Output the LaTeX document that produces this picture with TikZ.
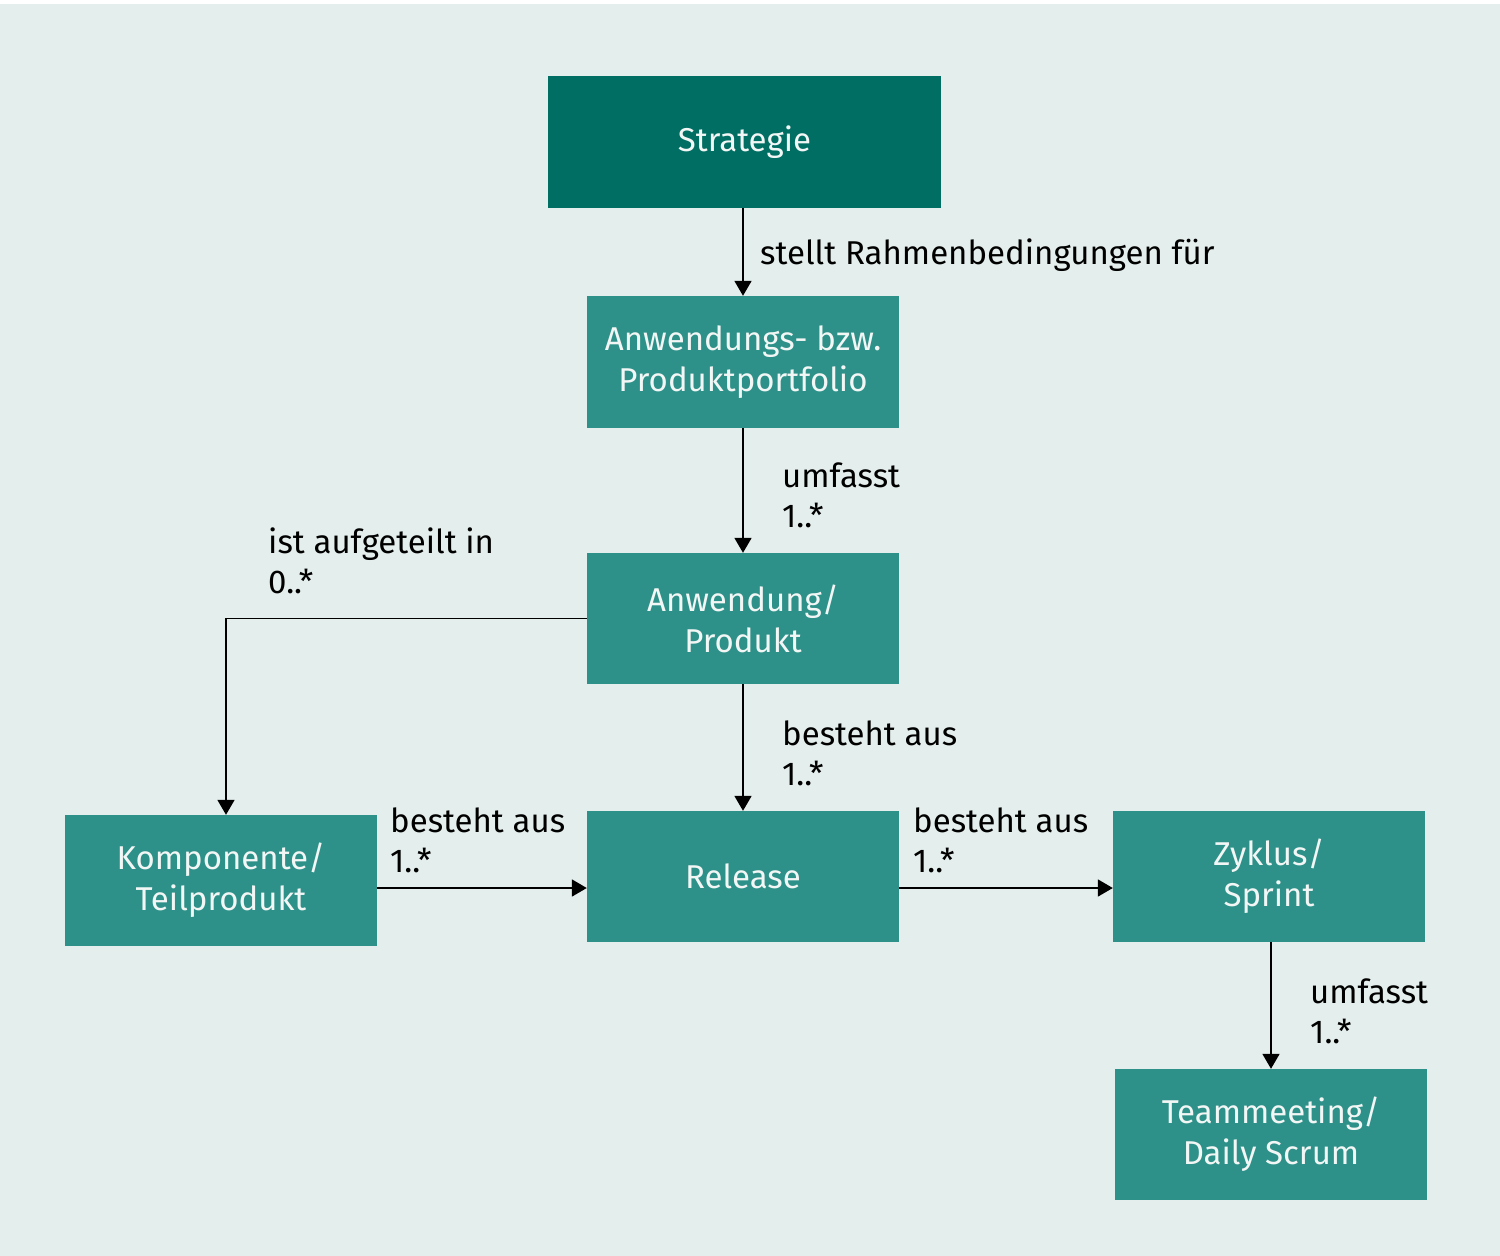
\documentclass[tikz,border=0pt]{standalone}
\usepackage{fontspec}
\setmainfont{Fira Sans}
\usetikzlibrary{arrows.meta,calc}
\definecolor{bg}{HTML}{E4EEEC}
\definecolor{darkteal}{HTML}{006E63}
\definecolor{teal}{HTML}{2E9189}
\definecolor{boxtext}{HTML}{F2F7F6}
\begin{document}
\begin{tikzpicture}[x=1pt,y=-1pt,
  box/.style={fill=teal, draw=none, text=boxtext, minimum width=312pt, minimum height=131pt,
    align=center, inner sep=0pt, font=\fontsize{33}{41}\selectfont},
  darkbox/.style={box, fill=darkteal, minimum width=393pt, minimum height=132pt},
  lbl/.style={anchor=base west, align=left, inner sep=0pt, font=\fontsize{33}{40}\selectfont, text=black},
  conn/.style={line width=1.8pt, -{Triangle[width=17pt,length=15pt]}},
  plain/.style={line width=1.8pt}]
\fill[white] (0,0) rectangle (1500,1256);
\fill[bg] (0,4) rectangle (1500,1256);
\useasboundingbox (0,0) rectangle (1500,1256);

\node[darkbox] (strat) at (744.5,142) {Strategie};
\node[box, minimum height=132pt] (port) at (743,362) {Anwendungs- bzw.\\Produktportfolio};
\node[box] (anw) at (743,618.5) {Anwendung/\\Produkt};
\node[box] (rel) at (743,876.5) {Release};
\node[box] (komp) at (221,880.5) {Komponente/\\Teilprodukt};
\node[box] (zyk) at (1269,876.5) {Zyklus/\\Sprint};
\node[box] (team) at (1271,1134.5) {Teammeeting/\\Daily Scrum};

\draw[conn] (port.north |- strat.south) -- (port.north);
\draw[conn] (port.south) -- (anw.north);
\draw[conn] (anw.south) -- (rel.north);
\draw[conn] (anw.west) -| ([xshift=5pt]komp.north);
\coordinate (relin) at ([yshift=-11.5pt]rel.west);
\draw[conn] (komp.east |- relin) -- (relin);
\draw[conn] ([yshift=-11.5pt]rel.east) -- (zyk.west |- relin);
\draw[conn] (team.north |- zyk.south) -- (team.north);

\node[lbl] (l1) at (760,264) {stellt Rahmenbedingungen für};
\node[lbl] (l2) at (782,527) {umfasst\\1..*};
\node[lbl] (l3) at (782,785) {besteht aus\\1..*};
\node[lbl] (l4) at (268,593) {ist aufgeteilt in\\0..*};
\node[lbl] (l5) at (390,872) {besteht aus\\1..*};
\node[lbl] (l6) at (913,872) {besteht aus\\1..*};
\node[lbl] (l7) at (1310,1043) {umfasst\\1..*};
\end{tikzpicture}
\end{document}
